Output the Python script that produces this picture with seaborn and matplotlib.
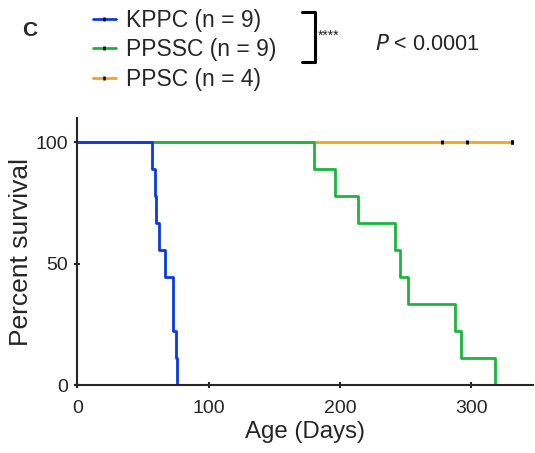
import numpy as np
import pandas as pd
import seaborn as sns
import matplotlib.pyplot as plt
from matplotlib.lines import Line2D

sns.set_style("ticks")
plt.rcParams['font.family'] = ['Liberation Sans', 'DejaVu Sans']

# days of death (event) and censoring per group
groups = ["KPPC (n = 9)", "PPSSC (n = 9)", "PPSC (n = 4)"]
colors = ["#0a3ae0", "#1cb53c", "#f7a21e"]
kppc_events = [57, 59, 60, 62, 67, 73, 73, 75, 76]
ppssc_events = [180, 196, 214, 242, 246, 252, 288, 292, 318]
ppsc_censored = [278, 297, 331, 331]
events = [kppc_events, ppssc_events, []]
censored = [[], [], ppsc_censored]
p_text = "$\\mathit{P}$ < 0.0001"


def km_steps(ev, cens):
    # Kaplan-Meier step points (x, percent survival)
    ev = np.array(ev, dtype=float)
    cens = np.array(cens, dtype=float)
    allt = np.concatenate([ev, cens])
    xs, ys = [0.0], [100.0]
    s = 100.0
    for t in np.unique(ev):
        at_risk = (allt >= t).sum()
        d = (ev == t).sum()
        s = s * (1 - d / at_risk)
        xs.append(t)
        ys.append(s)
    if len(cens) and cens.max() > xs[-1]:
        xs.append(cens.max())
        ys.append(s)
    return xs, ys


rows = []
marks = []
for g, ev, ce in zip(groups, events, censored):
    xs, ys = km_steps(ev, ce)
    for x, y in zip(xs, ys):
        rows.append({"group": g, "day": x, "pct": y})
    for c in ce:
        marks.append({"group": g, "day": c, "pct": ys[-1]})
df = pd.DataFrame(rows)
mk = pd.DataFrame(marks)

fig = plt.figure(figsize=(5.35, 4.53), dpi=100)
ax = fig.add_axes([0.1445, 0.150, 0.8515, 0.5895])

# draw order: orange under green under blue
for g, c in list(zip(groups, colors))[::-1]:
    sub = df[df.group == g]
    sns.lineplot(data=sub, x="day", y="pct", ax=ax, color=c, lw=2.0,
                 drawstyle="steps-post", estimator=None, sort=False)
if len(mk):
    ax.plot(mk.day, mk.pct, ls="none", marker="|", ms=3, mew=2.2, color="black")

ax.set_xlim(0, 347)
ax.set_ylim(0, 110)
ax.set_xticks([0, 100, 200, 300])
ax.set_yticks([0, 50, 100])
sns.despine(ax=ax)
for s in ["left", "bottom"]:
    ax.spines[s].set_linewidth(1.5)
ax.tick_params(direction="inout", length=5, width=1.5, labelsize=14)
ax.tick_params(axis="x", pad=8)
ax.tick_params(axis="y", pad=4)
ax.set_xlabel("Age (Days)", fontsize=17.3, labelpad=3)
ax.set_ylabel("Percent survival", fontsize=19, labelpad=2)

handles = [(Line2D([], [], color=c, lw=2.0),
            Line2D([], [], ls="none", marker="|", ms=3, mew=1.8, color="black"))
           for c in colors]
fig.legend(handles, groups, loc="upper left", bbox_to_anchor=(0.135, 1.025),
           frameon=False, fontsize=16.5, handlelength=1.0, handletextpad=0.45,
           labelspacing=0.27)

# bracket with significance
fig.add_artist(Line2D([302 / 535, 315 / 535, 315 / 535, 302 / 535],
                      [1 - 12 / 453, 1 - 12 / 453, 1 - 62 / 453, 1 - 62 / 453],
                      color="black", lw=2.2))
fig.text(318 / 535, 1 - 36 / 453, "****", fontsize=10, va="center", ha="left")
fig.text(375 / 535, 1 - 45 / 453, p_text, fontsize=15.5, va="center", ha="left")
fig.text(22 / 535, 1 - 30 / 453, "C", fontsize=15, fontweight="bold",
         va="center", ha="left")

fig.savefig("out.png", dpi=100)
